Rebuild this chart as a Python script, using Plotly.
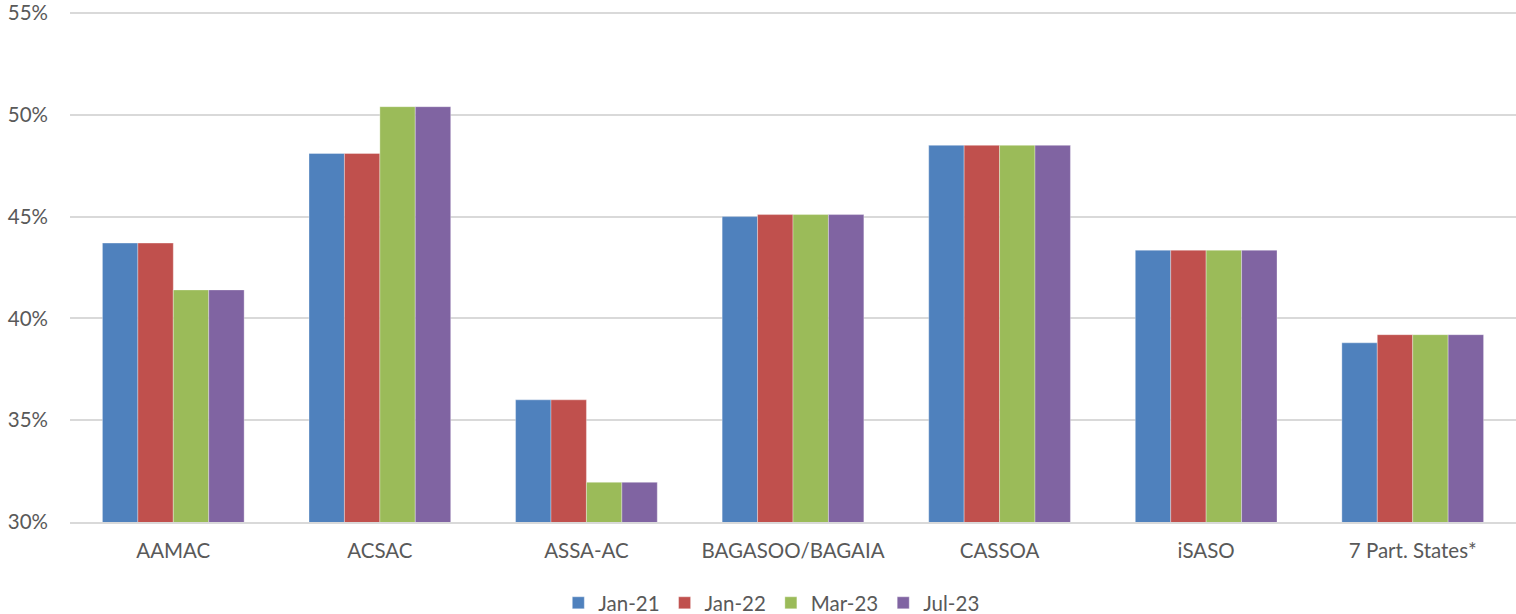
import plotly.graph_objects as go

categories = ["AAMAC", "ACSAC", "ASSA-AC", "BAGASOO/BAGAIA", "CASSOA", "iSASO", "7 Part. States*"]
series_names = ["Jan-21", "Jan-22", "Mar-23", "Jul-23"]
jan21 = [0.437, 0.481, 0.360, 0.450, 0.485, 0.4335, 0.388]
jan22 = [0.437, 0.481, 0.360, 0.451, 0.485, 0.4335, 0.392]
mar23 = [0.414, 0.504, 0.3195, 0.451, 0.485, 0.4335, 0.392]
jul23 = [0.414, 0.504, 0.3195, 0.451, 0.485, 0.4335, 0.392]
colors = ["#4F81BD", "#C0504D", "#9BBB59", "#8064A2"]
y_ticks = [0.30, 0.35, 0.40, 0.45, 0.50, 0.55]
y_tick_labels = ["30%", "35%", "40%", "45%", "50%", "55%"]

font_family = "Lato, Open Sans, sans-serif"
text_color = "#595959"
fs = 20.5

fig = go.Figure()
for name, vals, col in zip(series_names, [jan21, jan22, mar23, jul23], colors):
    fig.add_trace(go.Bar(
        x=categories, y=vals, name=name,
        marker=dict(color=col, line=dict(color="rgba(255,255,255,0.55)", width=0.6)),
    ))

fig.update_layout(
    width=1516, height=614,
    margin=dict(l=70, r=0, t=11, b=92, autoexpand=False),
    paper_bgcolor="white", plot_bgcolor="white",
    barmode="group", bargap=0.314, bargroupgap=0,
    font=dict(family=font_family, size=fs, color=text_color),
    legend=dict(orientation="h", x=0.485, xanchor="center", y=-0.1585, yanchor="middle",
                font=dict(size=fs, color=text_color), itemwidth=30, traceorder="normal"),
    showlegend=True,
)
fig.update_yaxes(range=[0.30, 0.551], tickvals=y_ticks, ticktext=y_tick_labels,
                 showgrid=True, gridcolor="#D9D9D9", gridwidth=1.5,
                 zeroline=False, showline=False, ticklabelstandoff=21, automargin=False,
                 ticklabeloverflow="allow",
                 tickfont=dict(size=fs, color=text_color))
fig.update_xaxes(showline=True, linecolor="#D9D9D9", linewidth=1.5,
                 showgrid=False, ticks="", ticklabelstandoff=10, automargin=False,
                 tickfont=dict(size=fs, color=text_color))

fig.write_html("out.html",
               config={"displayModeBar": False},
               post_script="document.body.style.margin='0';document.body.style.overflow='hidden';")
